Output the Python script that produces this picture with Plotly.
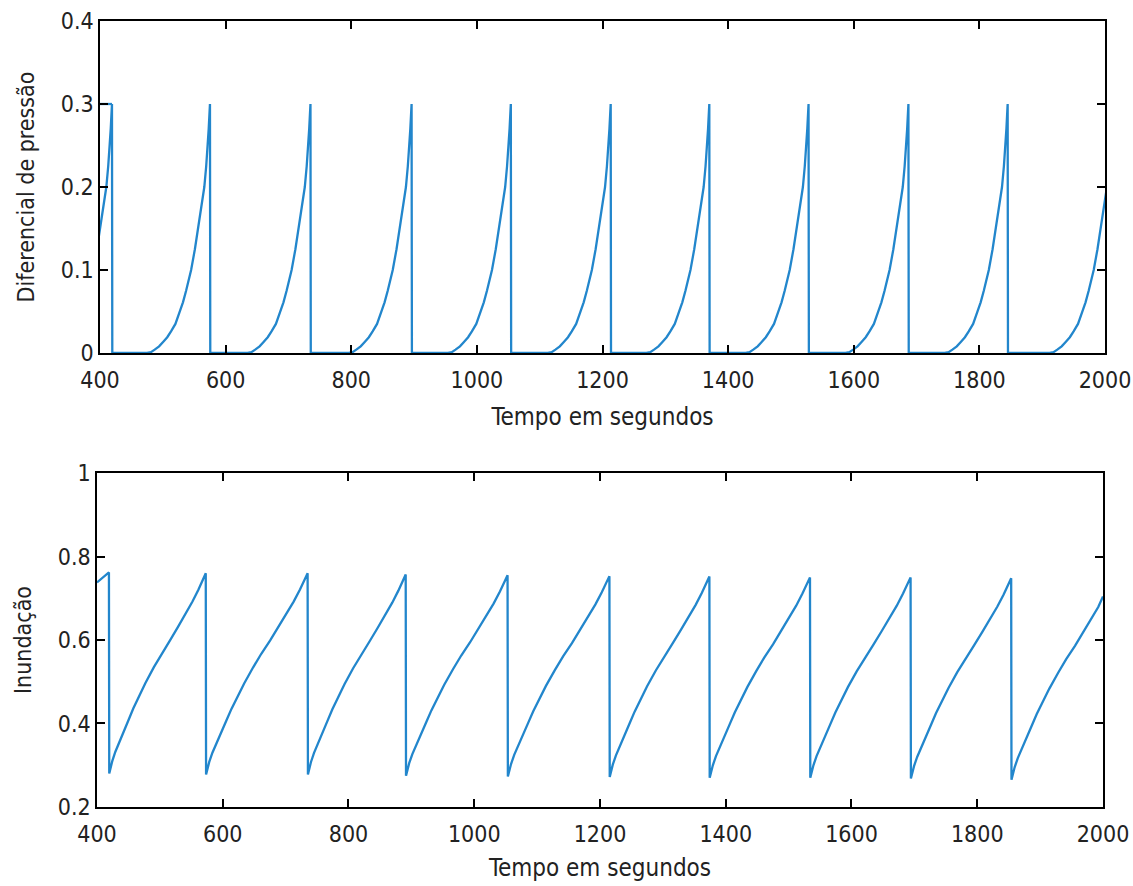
import plotly.graph_objects as go

# ---------------- data ----------------
# Top panel (Diferencial de pressão): times (s) at which each pulse peaks at 0.3 and drops to 0
drop_times_pressao = [419, 575, 735, 896, 1054, 1213, 1370, 1528, 1687, 1845, 2012]
# shape of one rising pulse: seconds before the drop -> value
pulse_offsets = [-100, -94, -88, -81, -75, -68, -62, -55, -48, -43, -38, -34, -30,
                 -24, -19, -16, -13, -9, -6, -4, -2, 0]
pulse_values = [0.0, 0.001, 0.004, 0.008, 0.013, 0.019, 0.026, 0.035, 0.050, 0.061,
                0.075, 0.087, 0.100, 0.125, 0.150, 0.163, 0.178, 0.200, 0.225, 0.245,
                0.270, 0.300]
# flat piece at 0.3 visible at the very start of the top panel
start_flat_t = [400, 419]
start_flat_v = [0.30, 0.30]

# Bottom panel (Inundação): times (s) of the drops, value just before and just after each drop
drop_times_inund = [419, 573, 735, 891, 1053, 1215, 1374, 1534, 1694, 1854]
peak_inund = [0.762, 0.760, 0.760, 0.757, 0.755, 0.753, 0.752, 0.750, 0.750, 0.748]
min_inund = [0.280, 0.278, 0.278, 0.275, 0.273, 0.272, 0.270, 0.270, 0.268, 0.265]
# beginning and end of the record
start_inund_t = [400, 410]
start_inund_v = [0.738, 0.750]
end_inund_t = 2000
end_inund_v = 0.704
# shape of one refill (for a 160 s cycle): seconds after min -> rise above min
refill_offsets = [0, 2, 5, 10, 16, 24, 32, 40, 48, 60, 74, 87, 101, 114, 127, 138, 148, 160]
refill_rise = [0.0, 0.014, 0.030, 0.052, 0.072, 0.101, 0.129, 0.157, 0.183, 0.218, 0.256,
               0.289, 0.321, 0.353, 0.385, 0.414, 0.443, 0.482]

x_ticks = [400, 600, 800, 1000, 1200, 1400, 1600, 1800, 2000]
x_ticklabels = ["400", "600", "800", "1000", "1200", "1400", "1600", "1800", "2000"]
y1_ticks = [0, 0.1, 0.2, 0.3, 0.4]
y1_ticklabels = ["0", "0.1", "0.2", "0.3", "0.4"]
y2_ticks = [0.2, 0.4, 0.6, 0.8, 1.0]
y2_ticklabels = ["0.2", "0.4", "0.6", "0.8", "1"]

x_title = "Tempo em segundos"
y1_title = "Diferencial de pressão"
y2_title = "Inundação"

# ---------------- assemble the two series ----------------
tp, vp = list(start_flat_t) + [None], list(start_flat_v) + [None]
for d in drop_times_pressao:
    for off, val in zip(pulse_offsets, pulse_values):
        tp.append(d + off)
        vp.append(val)
    tp.append(d + 0.5)
    vp.append(0.0)

ti, vi = list(start_inund_t), list(start_inund_v)
n = len(drop_times_inund)
for k in range(n):
    d = drop_times_inund[k]
    ti.append(d)
    vi.append(peak_inund[k])
    m = d + 0.5
    v0 = min_inund[k]
    if k + 1 < n:
        L = drop_times_inund[k + 1] - m
        amp = peak_inund[k + 1] - v0
        scale_t = L / refill_offsets[-1]
        scale_v = amp / refill_rise[-1]
        for off, r in zip(refill_offsets[:-1], refill_rise[:-1]):
            ti.append(m + off * scale_t)
            vi.append(v0 + r * scale_v)
    else:
        for off, r in zip(refill_offsets, refill_rise):
            if m + off >= end_inund_t:
                break
            ti.append(m + off)
            vi.append(v0 + r)
        ti.append(end_inund_t)
        vi.append(end_inund_v)

# ---------------- styling ----------------
LINE_COLOR = "#2286cc"
FONT = "Liberation Sans Narrow, DejaVu Sans Condensed, Arial Narrow, sans-serif"
FS_TICK = 23
FS_XT = 24
FS_YT = 23
TXT = "#222222"

fig = go.Figure()
fig.add_trace(go.Scatter(x=tp, y=vp, mode="lines",
                         line=dict(color=LINE_COLOR, width=2.3),
                         connectgaps=False, xaxis="x", yaxis="y",
                         showlegend=False))
fig.add_trace(go.Scatter(x=ti, y=vi, mode="lines",
                         line=dict(color=LINE_COLOR, width=2.3),
                         xaxis="x2", yaxis="y2", showlegend=False))

axis_common = dict(
    showline=True, linecolor="black", linewidth=1.5, mirror="ticks",
    ticks="inside", ticklen=8, tickwidth=1.5, tickcolor="black",
    showgrid=False, zeroline=False, automargin=False,
    ticklabeloverflow="allow",
    tickfont=dict(family=FONT, size=FS_TICK, color=TXT),
)

fig.update_layout(
    width=1133, height=886,
    margin=dict(l=0, r=0, t=0, b=0),
    paper_bgcolor="white", plot_bgcolor="white",
    font=dict(family=FONT, size=FS_TICK, color=TXT),
    xaxis=dict(axis_common, ticklabelstandoff=6, domain=[0.0883, 0.9753], range=[400, 2000],
               tickvals=x_ticks, ticktext=x_ticklabels, anchor="y",
               title=dict(text=x_title, standoff=16,
                          font=dict(family=FONT, size=FS_XT, color=TXT))),
    yaxis=dict(axis_common, domain=[0.6016, 0.9763], range=[0, 0.4],
               tickvals=y1_ticks, ticktext=y1_ticklabels, anchor="x",
               title=dict(text=y1_title, standoff=20,
                          font=dict(family=FONT, size=FS_YT, color=TXT))),
    xaxis2=dict(axis_common, ticklabelstandoff=6, domain=[0.0856, 0.9735], range=[400, 2000],
                tickvals=x_ticks, ticktext=x_ticklabels, anchor="y2",
                title=dict(text=x_title, standoff=13,
                           font=dict(family=FONT, size=FS_XT, color=TXT))),
    yaxis2=dict(axis_common, domain=[0.0892, 0.4661], range=[0.2, 1.0],
                tickvals=y2_ticks, ticktext=y2_ticklabels, anchor="x2",
                title=dict(text=y2_title, standoff=20,
                           font=dict(family=FONT, size=FS_YT, color=TXT))),
)

# the page's default 8px body margin would shift and clip the 1133x886 figure
fig.write_html("out.html", config={"displayModeBar": False},
               post_script="document.body.style.margin='0';")
